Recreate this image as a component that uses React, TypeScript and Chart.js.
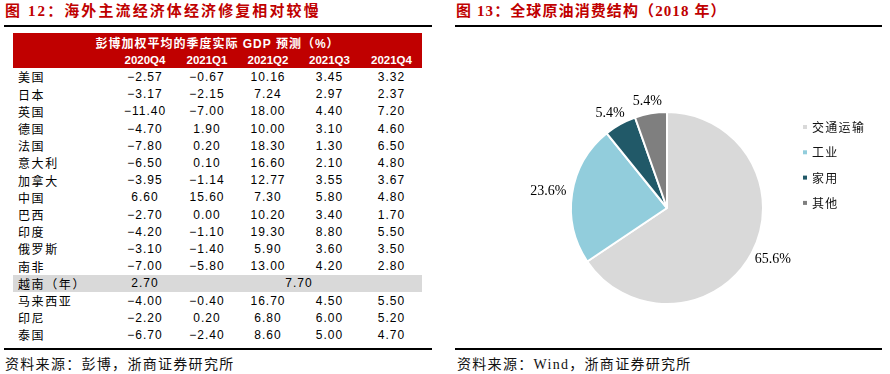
import React, { useEffect, useRef } from 'react';
import { Chart, registerables } from 'chart.js';
Chart.register(...registerables);

// ---------- Left table data ----------
const tableTitle = '彭博加权平均的季度实际 GDP 预测（%）';
const quarters = ['2020Q4', '2021Q1', '2021Q2', '2021Q3', '2021Q4'];
const countries = ['美国', '日本', '英国', '德国', '法国', '意大利', '加拿大', '中国', '巴西', '印度', '俄罗斯', '南非', '越南（年）', '马来西亚', '印尼', '泰国'];
const q2020Q4 = [-2.57, -3.17, -11.4, -4.7, -7.8, -6.5, -3.95, 6.6, -2.7, -4.2, -3.1, -7.0, null, -4.0, -2.2, -6.7];
const q2021Q1 = [-0.67, -2.15, -7.0, 1.9, 0.2, 0.1, -1.14, 15.6, 0.0, -1.1, -1.4, -5.8, null, -0.4, 0.2, -2.4];
const q2021Q2 = [10.16, 7.24, 18.0, 10.0, 18.3, 16.6, 12.77, 7.3, 10.2, 19.3, 5.9, 13.0, null, 16.7, 6.8, 8.6];
const q2021Q3 = [3.45, 2.97, 4.4, 3.1, 1.3, 2.1, 3.55, 5.8, 3.4, 8.8, 3.6, 4.2, null, 4.5, 6.0, 5.0];
const q2021Q4 = [3.32, 2.37, 7.2, 4.6, 6.5, 4.8, 3.67, 4.8, 1.7, 5.5, 3.5, 2.8, null, 5.5, 5.2, 4.7];
const annualRowIndex = 12; // 越南（年）
const vietnamAnnual = [2.7, 7.7]; // 2020, 2021

// ---------- Right pie data ----------
const pieLabels = ['交通运输', '工业', '家用', '其他'];
const pieValues = [65.6, 23.6, 5.4, 5.4];
const pieColors = ['#D9D9D9', '#92CDDC', '#215968', '#7F7F7F'];

const leftTitle = '图 12：海外主流经济体经济修复相对较慢';
const rightTitle = '图 13：全球原油消费结构（2018 年）';
const leftSource = '资料来源：彭博，浙商证券研究所';
const rightSource = '资料来源：Wind，浙商证券研究所';

const RED = '#C00000';
const FONT = '"Liberation Serif", "Noto Sans CJK SC", serif';
const CJK = '"Liberation Sans", "Noto Sans CJK SC", sans-serif';

const fmt = (v: number | null) => (v === null ? '' : v.toFixed(2).replace('-', '\u2212'));

const colWidths = [101, 62, 62, 60, 63, 61];
const rowTop = 68.4;
const rowH = 17.2;

const pieLabelPlugin = {
  id: 'pieOutLabels',
  afterDraw(chart: any) {
    const ctx = chart.ctx as CanvasRenderingContext2D;
    const meta = chart.getDatasetMeta(0);
    const data = chart.data.datasets[0].data as number[];
    const colors = chart.data.datasets[0].backgroundColor as string[];
    const labels = chart.data.labels as string[];
    const total = data.reduce((a, b) => a + b, 0);
    ctx.save();
    ctx.font = '14px "Liberation Serif"';
    ctx.fillStyle = '#000';
    ctx.textAlign = 'center';
    ctx.textBaseline = 'middle';
    let cxc = 0, cyc = 0, R = 0;
    meta.data.forEach((arc: any, i: number) => {
      const p = arc.getProps(['x', 'y', 'startAngle', 'endAngle', 'outerRadius'], true);
      cxc = p.x; cyc = p.y; R = p.outerRadius;
      const mid = (p.startAngle + p.endAngle) / 2;
      const txt = ((data[i] / total) * 100).toFixed(1) + '%';
      const w = ctx.measureText(txt).width;
      const h = 12;
      const a = p.outerRadius + 6;
      const cx = p.x + Math.cos(mid) * a + (Math.cos(mid) * w) / 2;
      const cy = p.y + Math.sin(mid) * a + (Math.sin(mid) * h) / 2;
      ctx.fillText(txt, cx, cy);
    });
    // legend
    const lx = cxc + R + 40;
    const ly0 = cyc - 81;
    const step = 25.3;
    ctx.font = '12px "Noto Sans CJK SC"';
    (ctx as any).letterSpacing = '1.3px';
    ctx.textAlign = 'left';
    labels.forEach((lab, i) => {
      const y = ly0 + i * step;
      ctx.fillStyle = colors[i];
      ctx.fillRect(lx, y - 2, 4, 4);
      ctx.fillStyle = '#111';
      ctx.fillText(lab, lx + 9, y + 0.5);
    });
    ctx.restore();
  },
};

function PieChart() {
  const ref = useRef<HTMLCanvasElement>(null);
  useEffect(() => {
    if (!ref.current) return;
    const chart = new Chart(ref.current, {
      type: 'pie',
      data: {
        labels: pieLabels,
        datasets: [
          {
            data: pieValues,
            backgroundColor: pieColors,
            borderColor: '#FFFFFF',
            borderWidth: 2,
          },
        ],
      },
      options: {
        animation: false,
        responsive: false,
        devicePixelRatio: 1,
        layout: { padding: { left: 125, right: 126, top: 81, bottom: 40 } },
        plugins: { legend: { display: false }, tooltip: { enabled: false } },
      },
      plugins: [pieLabelPlugin],
    });
    return () => chart.destroy();
  }, []);
  return <canvas ref={ref} width={445} height={315} style={{ position: 'absolute', left: 445, top: 30, width: 445, height: 315 }} />;
}

export default function App() {
  const cols = [q2020Q4, q2021Q1, q2021Q2, q2021Q3, q2021Q4];
  const titleStyle: React.CSSProperties = {
    position: 'absolute', top: 3, fontFamily: FONT, fontWeight: 700, fontSize: 15, lineHeight: '16px',
    letterSpacing: '1.5px', color: RED, whiteSpace: 'nowrap',
  };
  const sourceStyle: React.CSSProperties = {
    position: 'absolute', top: 357, fontFamily: FONT, fontSize: 14, lineHeight: '16px',
    letterSpacing: '1.3px', color: '#111', whiteSpace: 'nowrap',
  };
  const line = (left: number, top: number, width: number): React.CSSProperties => ({
    position: 'absolute', left, top, width, height: 2, background: '#000',
  });
  const numStyle: React.CSSProperties = {
    fontFamily: '"Liberation Sans", sans-serif', fontSize: 12, letterSpacing: '1px', textAlign: 'center', color: '#000',
  };
  return (
    <div style={{ position: 'fixed', left: 0, top: 0, width: 890, height: 374, background: '#fff', overflow: 'hidden' }}>
      {/* Left panel */}
      <div style={{ ...titleStyle, left: 5, letterSpacing: '2.1px' }}>{leftTitle}</div>
      <div style={line(4, 25, 428)} />
      <div style={{ position: 'absolute', left: 13, top: 33, width: 409, height: 35, background: RED }} />
      <div style={{
        position: 'absolute', left: 13, top: 33, width: 409, height: 18, display: 'flex', alignItems: 'center',
        justifyContent: 'center', color: '#fff', fontFamily: CJK, fontWeight: 700, fontSize: 12, letterSpacing: '1px', whiteSpace: 'nowrap',
      }}>{tableTitle}</div>
      <div style={{ position: 'absolute', left: 13, top: 51, width: 409, height: 17, display: 'flex', alignItems: 'center' }}>
        <div style={{ width: colWidths[0] }} />
        {quarters.map((q, i) => (
          <div key={q} style={{ width: colWidths[i + 1], textAlign: 'center', color: '#fff', fontFamily: '"Liberation Sans", sans-serif', fontWeight: 700, fontSize: 11.5 }}>{q}</div>
        ))}
      </div>
      {countries.map((c, r) => (
        <div key={c} style={{
          position: 'absolute', left: 13, top: rowTop + r * rowH, width: 409, height: rowH, display: 'flex', alignItems: 'center',
          background: r === annualRowIndex ? '#D9D9D9' : 'transparent',
        }}>
          <div style={{ width: colWidths[0] - 5, paddingLeft: 5, fontFamily: '"Noto Sans CJK SC", sans-serif', fontSize: 12, letterSpacing: '1.6px', whiteSpace: 'nowrap', color: '#000' }}>{c}</div>
          {r === annualRowIndex ? (
            <>
              <div style={{ ...numStyle, width: colWidths[1] }}>{fmt(vietnamAnnual[0])}</div>
              <div style={{ ...numStyle, width: colWidths[2] + colWidths[3] + colWidths[4] + colWidths[5] }}>{fmt(vietnamAnnual[1])}</div>
            </>
          ) : (
            cols.map((col, k) => (
              <div key={k} style={{ ...numStyle, width: colWidths[k + 1] }}>{fmt(col[r])}</div>
            ))
          )}
        </div>
      ))}
      <div style={line(4, 348, 428)} />
      <div style={{ ...sourceStyle, left: 5 }}>{leftSource}</div>

      {/* Right panel */}
      <div style={{ ...titleStyle, left: 456, letterSpacing: '1.1px' }}>{rightTitle}</div>
      <div style={line(455, 25, 427)} />
      <PieChart />
      <div style={line(455, 348, 427)} />
      <div style={{ ...sourceStyle, left: 457 }}>{rightSource}</div>
    </div>
  );
}
